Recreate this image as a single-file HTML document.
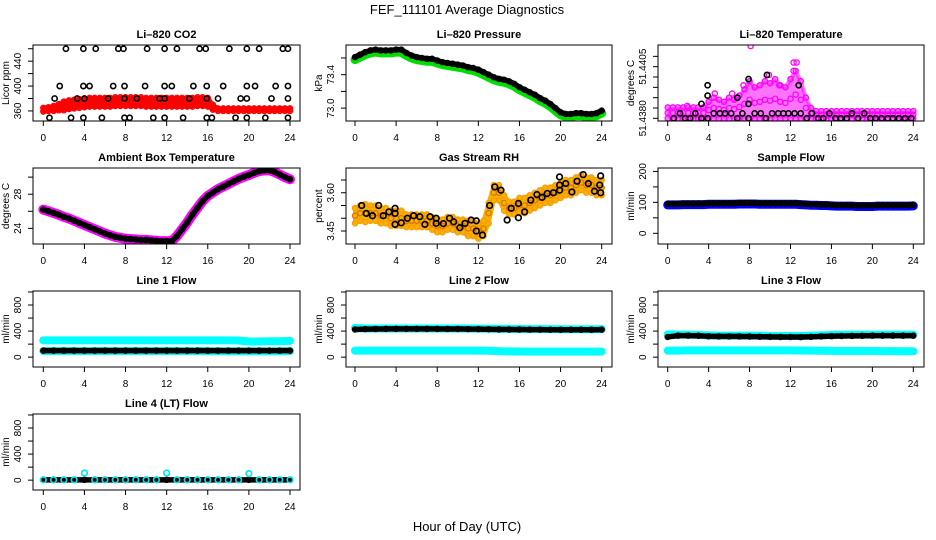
<!DOCTYPE html>
<html><head><meta charset="utf-8"><style>
html,body{margin:0;padding:0;background:#fff;}
svg{display:block;font-family:"Liberation Sans",sans-serif;}
</style></head><body>
<svg id="chart" width="936" height="540" viewBox="0 0 936 540" xmlns="http://www.w3.org/2000/svg">
<rect width="936" height="540" fill="#fff"/>
<text x="467" y="14" font-size="13" text-anchor="middle">FEF_111101  Average Diagnostics</text>
<text x="467" y="531" font-size="13" text-anchor="middle">Hour of Day (UTC)</text>
</svg>
<script>
const hours49=[0,0.5,1,1.5,2,2.5,3,3.5,4,4.5,5,5.5,6,6.5,7,7.5,8,8.5,9,9.5,10,10.5,11,11.5,12,12.5,13,13.5,14,14.5,15,15.5,16,16.5,17,17.5,18,18.5,19,19.5,20,20.5,21,21.5,22,22.5,23,23.5,24];
const hours25=[0,1,2,3,4,5,6,7,8,9,10,11,12,13,14,15,16,17,18,19,20,21,22,23,24];
const xTicks=[0,4,8,12,16,20,24];

// CO2
const co2Red=[362,363,364,366,368,370,371,372,373,374,374,374,374,374,375,375,375,375,375,375,374,374,374,374,374,374,374,374,374,374,375,375,374,366,362,362,362,362,362,362,362,362,362,362,362,362,362,362,362];
const co2Spread=[3,3,4,5,7,7,7,7,7,7,7,7,7,7,7,7,7,7,7,7,7,7,7,7,7,7,7,7,7,7,7,7,7,4,2,2,2,2,2,2,2,2,2,2,2,2,2,2,2];
const co2BlackHours=[2.2,3.9,5.1,7.3,7.8,10.1,11.8,13.0,15.2,15.8,18.1,19.8,21.0,23.3,23.8, 1.6,3.9,4.5,6.8,7.9,9.9,11.8,12.5,14.6,15.9,17.5,19.8,20.6,22.6,23.8, 1.1,3.3,4.0,6.3,7.9,9.1,11.3,11.8,14.2,15.9,17.0,19.2,19.8,22.2,23.8, 0.6,2.7,3.9,5.7,7.9,8.4,10.7,11.8,13.6,15.9,16.4,18.7,19.8,21.6,23.8];
const co2BlackVals=[460,460,460,460,460,460,460,460,460,460,460,460,460,460,460, 400,400,400,400,400,400,400,400,400,400,400,400,400,400,400, 380,380,380,380,380,380,380,380,380,380,380,380,380,380,380, 349,349,349,349,349,349,349,349,349,349,349,349,349,349,349];

// Pressure
const pressVals=[73.61,73.64,73.67,73.69,73.70,73.69,73.69,73.69,73.70,73.70,73.66,73.63,73.61,73.60,73.59,73.59,73.57,73.55,73.54,73.53,73.52,73.51,73.49,73.48,73.46,73.43,73.40,73.37,73.35,73.34,73.32,73.29,73.25,73.22,73.19,73.16,73.12,73.09,73.05,73.00,72.95,72.93,72.93,72.94,72.94,72.93,72.93,72.94,72.97];

// Li-820 Temperature
const tempLo=[51.4380,51.4380,51.4380,51.4380,51.4380,51.4380,51.4380,51.4380,51.4380,51.4380,51.4380,51.4380,51.4380,51.4380,51.4380,51.4380,51.4380,51.4380,51.4380,51.4380,51.4380,51.4380,51.4380,51.4380,51.4380,51.4380,51.4380,51.4380,51.4380,51.4380,51.4380,51.4380,51.4380,51.4380,51.4380,51.4380,51.4380,51.4380,51.4380,51.4380,51.4380,51.4380,51.4380,51.4380,51.4380,51.4380,51.4380,51.4380,51.4380];
const tempHi=[51.43853,51.43853,51.43853,51.43853,51.43853,51.43853,51.43853,51.43853,51.4388,51.4390,51.4389,51.4388,51.4390,51.4389,51.4391,51.4394,51.4398,51.4395,51.4396,51.4398,51.4397,51.4399,51.4396,51.4395,51.4399,51.4403,51.4398,51.4390,51.4385,51.43835,51.43835,51.43835,51.43835,51.43835,51.43835,51.43835,51.43835,51.43835,51.43835,51.43835,51.43835,51.43835,51.43835,51.43835,51.43835,51.43835,51.43835,51.43835,51.43835];
const tempExtraHours=[8.1,12.3,12.6,12.3,9.9,7.4,1.9,10.9,4.6,6.3];
const tempExtraVals=[51.4415,51.4407,51.4407,51.4403,51.4401,51.4396,51.4386,51.4396,51.4392,51.4392];
const tempBlackHours=[0.6,1.2,1.7,2.2,2.7,3.3,3.9,4.5,5.1,5.6,6.2,6.8,7.3,7.9,8.5,9.1,9.6,10.2,10.8,11.3,11.8,12.4,13.0,13.6,14.1,14.7,15.2,15.8,16.4,16.9,17.5,18.0,18.6,19.2,19.8,20.3,20.9,21.5,22.0,22.6,23.2,23.8,3.3,3.9,3.9,6.8,7.9,7.9,9.7,12.8];
const tempBlackVals=[51.4380,51.43824,51.4380,51.4380,51.43824,51.4380,51.4380,51.43824,51.43824,51.43824,51.43824,51.4380,51.43824,51.4380,51.43824,51.43824,51.4380,51.43824,51.43824,51.43824,51.43824,51.43824,51.43824,51.4380,51.43824,51.4380,51.4380,51.43824,51.4380,51.4380,51.4380,51.43824,51.4380,51.43824,51.4380,51.4380,51.4380,51.4380,51.4380,51.4380,51.4380,51.4380,51.4387,51.4391,51.4396,51.4390,51.4387,51.4399,51.4401,51.4396];

// Ambient Box Temperature
const ambVals=[26.2,26.0,25.8,25.6,25.35,25.15,24.9,24.65,24.4,24.15,23.9,23.65,23.4,23.2,23.0,22.9,22.8,22.75,22.7,22.65,22.65,22.6,22.55,22.5,22.5,22.5,23.1,23.9,24.7,25.6,26.4,27.2,27.8,28.2,28.6,28.9,29.2,29.5,29.8,30.05,30.25,30.5,30.7,30.8,30.8,30.6,30.3,30.0,29.75];

// Gas Stream RH
const rhVals=[3.51,3.52,3.52,3.52,3.52,3.51,3.51,3.50,3.50,3.50,3.49,3.49,3.49,3.49,3.49,3.48,3.47,3.47,3.48,3.48,3.47,3.47,3.46,3.46,3.45,3.46,3.52,3.60,3.60,3.56,3.54,3.54,3.55,3.55,3.56,3.57,3.58,3.59,3.59,3.60,3.61,3.62,3.62,3.63,3.64,3.63,3.63,3.62,3.62];
const rhSpread=[0.03,0.03,0.035,0.03,0.03,0.03,0.03,0.03,0.03,0.03,0.025,0.025,0.025,0.025,0.025,0.025,0.025,0.025,0.025,0.025,0.025,0.025,0.03,0.03,0.03,0.03,0.04,0.03,0.03,0.03,0.025,0.025,0.03,0.03,0.03,0.03,0.03,0.03,0.03,0.03,0.03,0.03,0.03,0.03,0.03,0.03,0.03,0.03,0.03];
const rhBlackHours=[0.65,1.1,1.7,2.3,2.75,3.3,3.9,3.9,3.9,4.5,5.1,5.7,6.3,6.8,7.3,7.9,7.9,8.6,9.2,9.6,10.2,10.7,11.3,11.8,11.8,12.4,13.1,13.6,14.2,14.8,15.2,15.9,15.9,16.5,17.1,17.7,18.2,18.7,19.3,19.9,19.9,19.9,20.5,21.1,21.6,22.2,22.7,23.3,23.8,23.9,23.9];
const rhBlackVals=[3.55,3.519,3.510,3.55,3.510,3.525,3.519,3.539,3.476,3.482,3.50,3.51,3.506,3.476,3.506,3.50,3.48,3.479,3.50,3.486,3.463,3.48,3.493,3.49,3.45,3.434,3.55,3.623,3.61,3.493,3.539,3.558,3.502,3.525,3.571,3.593,3.582,3.597,3.60,3.662,3.63,3.61,3.636,3.603,3.645,3.671,3.636,3.606,3.63,3.60,3.666];

// Sample Flow
const sampleVals=[95,95,95,96,96,96,96,96,97,97,97,97,97,97,98,98,98,98,97,97,97,97,97,97,97,97,96,95,94,94,93,93,92,91,91,91,91,90,90,90,90,91,91,91,91,91,91,91,92];

// Line flows (hourly)
const l1CyanHigh=[258,258,258,258,258,258,258,258,258,258,258,258,258,258,258,258,258,258,258,255,240,240,245,245,250];
const l1CyanLow=[95,95,95,95,95,95,95,95,95,95,95,95,95,95,95,95,92,90,90,90,90,90,90,90,95];
const l1Black=[100,100,100,100,100,100,100,100,100,100,100,100,100,100,100,100,100,100,100,100,100,100,100,100,100];
const l2CyanHigh=[450,440,440,440,440,440,440,440,440,440,440,440,438,436,434,432,432,430,430,430,428,428,428,428,430];
const l2CyanLow=[100,100,100,100,100,100,100,100,100,100,100,100,100,98,90,88,86,85,85,84,84,84,84,84,85];
const l2Black=[425,430,432,433,433,433,433,433,433,432,432,431,430,428,426,425,424,423,422,421,420,420,420,420,422];
const l3CyanHigh=[350,345,345,340,335,330,330,330,330,330,325,325,325,325,330,335,340,345,345,345,345,345,345,345,345];
const l3CyanLow=[100,100,105,105,105,105,105,105,105,105,105,105,105,102,100,98,96,95,95,95,95,92,92,90,90];
const l3Black=[310,330,330,328,320,318,318,318,316,314,312,310,310,308,312,318,322,325,326,328,330,330,330,330,330];
const l4Cyan=[5,5,5,5,110,5,5,5,5,5,5,5,110,5,5,5,5,5,5,5,100,5,5,5,5];
const l4Black=[5,5,5,5,5,5,5,5,5,5,5,5,5,5,5,5,5,5,5,5,5,5,5,5,5];

const NS='http://www.w3.org/2000/svg';
const svg=document.getElementById('chart');
function mk(tag,attrs,parent){const e=document.createElementNS(NS,tag);for(const k in attrs)e.setAttribute(k,attrs[k]);(parent||svg).appendChild(e);return e;}
let clipId=0;

function panel(p){
  const g=mk('g',{});
  
  
  const sx=h=>p.x0+(p.x24-p.x0)*h/24;
  const sy=v=>p.B-(v-p.ymin)/(p.ymax-p.ymin)*(p.B-p.T);
  const t=mk('text',{x:(p.L+p.R)/2,y:p.T-7,'font-size':11,'font-weight':'bold','text-anchor':'middle'},g);
  t.textContent=p.title;
  
  
  const xa=mk('g',{},g);
  
  
  xTicks.forEach(h=>{
    const tk=mk('line',{x1:sx(h),x2:sx(h),y1:p.B,y2:p.B+5,stroke:'#000','stroke-width':1},xa);
    
    
    const tl=mk('text',{x:sx(h),y:p.B+20,'font-size':10,'text-anchor':'middle'},xa);
    tl.textContent=String(h);
    
    
  });
  const ya=mk('g',{},g);
  
  
  p.yticks.forEach(v=>{
    const tk=mk('line',{x1:p.L-5,x2:p.L,y1:sy(v),y2:sy(v),stroke:'#000','stroke-width':1},ya);
    
    
  });
  p.ylabels.forEach((lab,i)=>{
    const yy=sy(p.ylabelVals[i]);
    const tl=mk('text',{x:p.L-12,y:yy,'font-size':10,'text-anchor':'middle',transform:'rotate(-90 '+(p.L-12)+' '+yy+')'},ya);
    tl.textContent=lab;
    
    
  });
  const yc=(p.T+p.B)/2;
  const yt=mk('text',{x:p.L-24,y:yc,'font-size':10,'text-anchor':'middle',transform:'rotate(-90 '+(p.L-24)+' '+yc+')'},ya);
  yt.textContent=p.ylab;
  
  
  const id='clip'+(clipId++);
  const cp=mk('clipPath',{id:id},g);
  mk('rect',{x:p.L,y:p.T,width:p.R-p.L,height:p.B-p.T},cp);
  const plot=mk('g',{'clip-path':'url(#'+id+')'},g);
  
  
  const box=mk('rect',{x:p.L,y:p.T,width:p.R-p.L,height:p.B-p.T,fill:'none',stroke:'#000','stroke-width':1},g);
  
  
  return {plot,sx,sy};
}
function ring(parent,x,y,color,name,r,sw){
  const c=mk('circle',{cx:x,cy:y,r:r||2.6,fill:'none',stroke:color,'stroke-width':sw||1.3},parent);
  
  
  return c;
}
function band(P,hs,lo,hi,color,name,op){
  let d='';
  hs.forEach((h,i)=>{d+=(i?'L':'M')+P.sx(h)+' '+P.sy(hi[i]);});
  for(let i=hs.length-1;i>=0;i--)d+='L'+P.sx(hs[i])+' '+P.sy(lo[i]);
  const e=mk('path',{d:d+'Z',fill:color,stroke:color,'stroke-width':4,'stroke-linejoin':'round','fill-opacity':op||1,'stroke-opacity':op||1},P.plot);
  
  
}
function thick(P,hs,vals,color,w,name,dy,dash){
  const d=hs.map((h,i)=>(i?'L':'M')+P.sx(h)+' '+(P.sy(vals[i])+(dy||0))).join('');
  const e=mk('path',{d:d,fill:'none',stroke:color,'stroke-width':w,'stroke-linejoin':'round','stroke-linecap':'round'},P.plot);
  if(dash)e.setAttribute('stroke-dasharray',dash);
  
  
}
function chain(P,hs,vals,name){
  thick(P,hs,vals,'#000',5.5,name+'-line',0,'4 1.2');
  hs.forEach((h,i)=>{ring(P.plot,P.sx(h),P.sy(vals[i]),'#000',name+'-point');});
}

const rowT=[45,168,291,414];
const cols=[{L:33,R:300,x0:43.3,x24:290},{L:346,R:612,x0:355,x24:601.7},{L:658,R:924,x0:667.7,x24:913.3}];
function geom(r,c,extra){const o=Object.assign({},cols[c],extra);o.T=rowT[r];o.B=rowT[r]+76;return o;}

// Panel 1: CO2
(function(){
  const P=panel(geom(0,0,{name:'co2',title:'Li\u2013820 CO2',ylab:'Licor ppm',ymin:343.8,ymax:466,yticks:[360,380,400,420,440,460],ylabels:['360','400','440'],ylabelVals:[360,400,440]}));
  const lo=co2Red.map((v,i)=>v-co2Spread[i]);
  const hi=co2Red.map((v,i)=>v+co2Spread[i]);
  band(P,hours49,lo,hi,'#ff0000','co2-red-cloud');
  hours49.forEach((h,i)=>{ring(P.plot,P.sx(h),P.sy(hi[i]),'#ff0000','co2-red-point');ring(P.plot,P.sx(h),P.sy(lo[i]),'#ff0000','co2-red-point');});
  co2BlackHours.forEach((h,i)=>ring(P.plot,P.sx(h),P.sy(co2BlackVals[i]),'#000','co2-black-point',2.6,1.6));
})();
// Panel 2: Pressure
(function(){
  const P=panel(geom(0,1,{name:'pressure',title:'Li\u2013820 Pressure',ylab:'kPa',ymin:72.846,ymax:73.755,yticks:[73.0,73.2,73.4,73.6],ylabels:['73.0','73.4'],ylabelVals:[73.0,73.4]}));
  thick(P,hours49,pressVals,'#00dd00',9,'pressure-green-band',2.5);
  chain(P,hours49,pressVals,'pressure-black');
})();
// Panel 3: Li-820 Temperature
(function(){
  const P=panel(geom(0,2,{name:'li820-temp',title:'Li\u2013820 Temperature',ylab:'degrees C',ymin:51.43787,ymax:51.44155,yticks:[51.4380,51.4385,51.4390,51.4395,51.4400,51.4405,51.4410],ylabels:['51.4380','51.4405'],ylabelVals:[51.4380,51.4405]}));
  band(P,hours49,tempLo,tempHi,'#ff00ff','temp-magenta-cloud',0.55);
  hours49.forEach((h,i)=>{
    ring(P.plot,P.sx(h),P.sy(tempHi[i]),'#ff00ff','temp-magenta-point');
    ring(P.plot,P.sx(h),P.sy((tempHi[i]+tempLo[i])/2),'#ff00ff','temp-magenta-point');
    ring(P.plot,P.sx(h),P.sy(tempLo[i]),'#ff00ff','temp-magenta-point');
  });
  tempExtraHours.forEach((h,i)=>ring(P.plot,P.sx(h),P.sy(tempExtraVals[i]),'#ff00ff','temp-magenta-outlier'));
  tempBlackHours.forEach((h,i)=>ring(P.plot,P.sx(h),P.sy(tempBlackVals[i]),'#000','temp-black-point',2.6,1.6));
})();
// Panel 4: Ambient
(function(){
  const P=panel(geom(1,0,{name:'ambient-temp',title:'Ambient Box Temperature',ylab:'degrees C',ymin:22.17,ymax:31.07,yticks:[24,26,28,30],ylabels:['24','28'],ylabelVals:[24,28]}));
  thick(P,hours49,ambVals,'#ff00ff',10,'ambient-magenta-band');
  chain(P,hours49,ambVals,'ambient-black');
})();
// Panel 5: RH
(function(){
  const P=panel(geom(1,1,{name:'gas-rh',title:'Gas Stream RH',ylab:'percent',ymin:3.399,ymax:3.697,yticks:[3.45,3.50,3.55,3.60,3.65],ylabels:['3.45','3.60'],ylabelVals:[3.45,3.60]}));
  const lo=rhVals.map((v,i)=>v-rhSpread[i]);
  const hi=rhVals.map((v,i)=>v+rhSpread[i]);
  band(P,hours49,lo,hi,'#f2b400','rh-orange-cloud');
  hours49.forEach((h,i)=>{ring(P.plot,P.sx(h),P.sy(hi[i]),'#ff9900','rh-orange-point');ring(P.plot,P.sx(h),P.sy(lo[i]),'#ff9900','rh-orange-point');ring(P.plot,P.sx(h),P.sy(rhVals[i]),'#e07000','rh-orange-point');});
  rhBlackHours.forEach((h,i)=>ring(P.plot,P.sx(h),P.sy(rhBlackVals[i]),'#000','rh-black-point',2.8,1.7));
})();
// Panel 6: Sample flow
(function(){
  const P=panel(geom(1,2,{name:'sample-flow',title:'Sample Flow',ylab:'ml/min',ymin:-34.5,ymax:211,yticks:[0,50,100,150,200],ylabels:['0','100','200'],ylabelVals:[0,100,200]}));
  thick(P,hours49,sampleVals,'#0000ff',9,'sample-blue-band',1);
  chain(P,hours49,sampleVals,'sample-black');
})();
const flowY={ymin:-151,ymax:1015,yticks:[0,200,400,600,800,1000],ylabels:['0','400','800'],ylabelVals:[0,400,800],ylab:'ml/min'};
function flowPanel(r,c,name,title,hi,lo,black){
  const P=panel(geom(r,c,Object.assign({name:name,title:title},flowY)));
  if(hi){thick(P,hours25,hi,'#00ffff',8,name+'-cyan-high');}
  if(lo){thick(P,hours25,lo,'#00ffff',8,name+'-cyan-low');}
  chain(P,hours25,black,name+'-black');
  return P;
}
flowPanel(2,0,'line1-flow','Line 1 Flow',l1CyanHigh,l1CyanLow,l1Black);
flowPanel(2,1,'line2-flow','Line 2 Flow',l2CyanHigh,l2CyanLow,l2Black);
flowPanel(2,2,'line3-flow','Line 3 Flow',l3CyanHigh,l3CyanLow,l3Black);
(function(){
  const P=panel(geom(3,0,Object.assign({name:'line4-flow',title:'Line 4 (LT) Flow'},flowY)));
  chain(P,hours25,l4Black,'line4-black');
  hours25.forEach((h,i)=>ring(P.plot,P.sx(h),P.sy(l4Cyan[i]),'#00e5ee','line4-cyan-point',2.8,1.7));
})();
</script>
</body></html>
